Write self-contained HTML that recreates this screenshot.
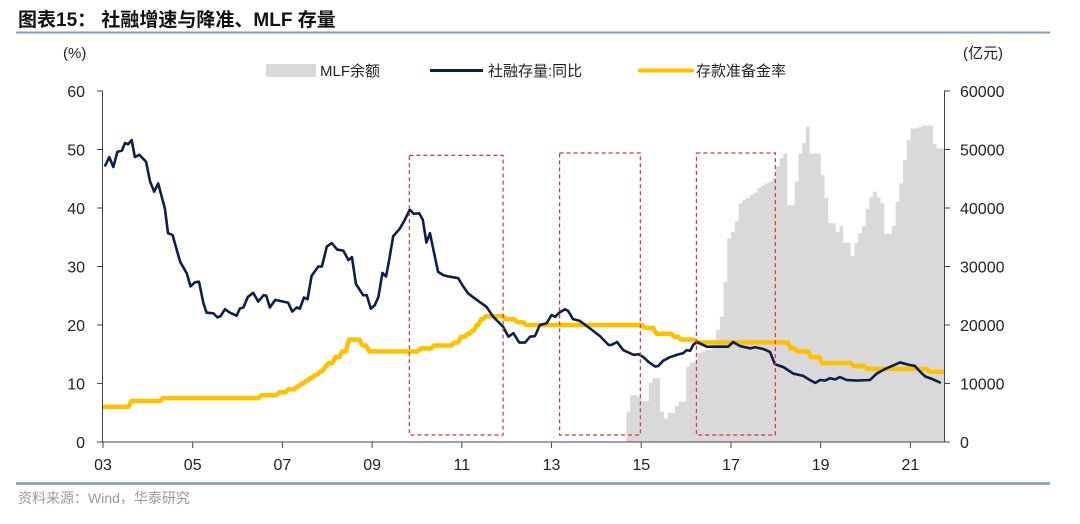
<!DOCTYPE html>
<html><head><meta charset="utf-8"><style>
body{margin:0;background:#fff;width:1080px;height:519px;overflow:hidden;font-family:"Liberation Sans","Noto Sans CJK SC",sans-serif}
svg text{font-family:"Liberation Sans","Noto Sans CJK SC",sans-serif}
</style></head><body>
<svg id="chart" width="1080" height="519" viewBox="0 0 1080 519">
<text x="18" y="26" font-size="19" font-weight="bold" fill="#111">图表15：  社融增速与降准、MLF 存量</text>
<line x1="16" y1="32.5" x2="1050" y2="32.5" stroke="#7f9bb8" stroke-width="2"/>
<line x1="16" y1="483.5" x2="1050" y2="483.5" stroke="#7f9bb8" stroke-width="2.5"/>
<text x="18" y="503" font-size="14" fill="#999">资料来源：Wind，华泰研究</text>
<text x="63" y="58" font-size="15" fill="#222">(%)</text>
<text x="963" y="58" font-size="15" fill="#222">(亿元)</text>
<g>
<g><rect x="266" y="64" width="50" height="13" fill="#d9d9d9"/><text x="320" y="76" font-size="15" fill="#222">MLF余额</text></g>
<g><line x1="430" y1="70.5" x2="483" y2="70.5" stroke="#0c1f4a" stroke-width="3"/><text x="488" y="76" font-size="15" fill="#222">社融存量:同比</text></g>
<g><line x1="640" y1="70.5" x2="692" y2="70.5" stroke="#ffc000" stroke-width="4" stroke-linecap="round"/><text x="696" y="76" font-size="15" fill="#222">存款准备金率</text></g>
</g>
<g id="bars"></g><g id="axes"></g><g id="lines"></g><g id="boxes"></g>
</svg>
<script>
const xTickLabels=["03","05","07","09","11","13","15","17","19","21"];
const xTickYears=[2003,2005,2007,2009,2011,2013,2015,2017,2019,2021];
const leftTicks=[0,10,20,30,40,50,60];
const rightTicks=[0,10000,20000,30000,40000,50000,60000];
const mlfStart=2014.67;
const mlfValues=[5200,8000,8000,7600,7000,7000,10100,10900,10900,5200,4000,5000,5000,6200,6900,6900,12900,13600,13600,15200,15400,15700,15700,17400,19100,21400,27400,34800,35900,37700,40800,41400,41700,42200,42600,43400,43800,44200,44500,45100,47100,48500,49300,40500,40500,44500,49300,51100,53900,49300,49300,49300,45600,41700,37400,37400,35900,36900,34100,34100,31800,34000,35700,36900,39900,41900,42800,41800,40800,35600,35600,36900,41100,44200,48200,51600,53600,53600,53800,54100,54100,54100,50900,50200,50200];
const sfYears=[2003.04,2003.14,2003.23,2003.32,2003.42,2003.49,2003.56,2003.64,2003.71,2003.81,2003.96,2004.05,2004.14,2004.23,2004.38,2004.45,2004.55,2004.72,2004.87,2004.95,2005.05,2005.14,2005.24,2005.31,2005.46,2005.55,2005.62,2005.72,2005.83,2005.98,2006.05,2006.13,2006.23,2006.35,2006.46,2006.58,2006.64,2006.72,2006.84,2007.02,2007.13,2007.22,2007.32,2007.39,2007.48,2007.56,2007.65,2007.80,2007.88,2007.99,2008.10,2008.22,2008.36,2008.47,2008.55,2008.64,2008.80,2008.88,2008.97,2009.06,2009.14,2009.23,2009.31,2009.38,2009.47,2009.61,2009.71,2009.84,2009.93,2010.05,2010.13,2010.21,2010.29,2010.36,2010.47,2010.59,2010.70,2010.92,2011.03,2011.14,2011.33,2011.55,2011.70,2011.92,2012.04,2012.15,2012.28,2012.41,2012.52,2012.63,2012.74,2012.89,2013.00,2013.08,2013.17,2013.30,2013.37,2013.48,2013.63,2013.86,2014.08,2014.27,2014.34,2014.46,2014.60,2014.83,2014.94,2015.05,2015.16,2015.31,2015.38,2015.49,2015.64,2015.79,2015.94,2016.01,2016.09,2016.16,2016.24,2016.46,2016.76,2016.94,2017.05,2017.20,2017.43,2017.54,2017.72,2017.87,2017.98,2018.17,2018.39,2018.61,2018.76,2018.88,2018.99,2019.10,2019.21,2019.32,2019.43,2019.58,2019.81,2020.10,2020.25,2020.47,2020.77,2020.96,2021.10,2021.22,2021.33,2021.51,2021.68];
const sfValues=[47.1,48.7,47.0,49.6,49.8,51.1,50.9,51.6,48.7,49.1,47.9,44.5,42.8,44.2,39.9,35.7,35.4,30.8,28.8,26.6,27.3,27.4,23.7,22.1,22.0,21.3,21.5,22.7,22.1,21.6,22.8,23.0,24.8,25.5,24.0,25.1,25.0,23.0,24.3,24.0,23.8,22.3,23.0,22.8,24.7,24.4,28.4,30.0,30.0,33.4,34.0,32.9,32.7,31.1,31.6,27.0,25.1,25.1,22.8,23.4,24.8,28.9,28.3,31.1,35.2,36.4,37.7,39.7,39.0,39.1,38.0,34.1,35.7,33.1,29.1,28.5,28.3,28.0,26.6,25.4,24.3,23.1,21.4,19.7,18.0,18.6,17.0,17.0,18.0,18.1,20.0,20.3,21.7,21.4,22.1,22.7,22.4,21.0,20.7,19.4,18.1,16.6,16.6,17.1,15.7,14.9,15.0,14.5,13.7,12.9,13.0,13.9,14.5,14.9,15.2,15.7,15.6,16.6,17.1,16.3,16.3,16.3,17.1,16.4,16.0,16.2,15.9,15.4,13.3,12.8,11.7,11.3,10.6,10.1,10.6,10.5,10.9,10.7,11.1,10.6,10.5,10.6,11.7,12.6,13.6,13.2,13.0,12.0,11.2,10.7,10.1];
const rrrYears=[2003.0,2003.6,2004.3,2006.5,2006.9,2007.1,2007.3,2007.4,2007.5,2007.6,2007.7,2007.8,2007.9,2007.95,2008.0,2008.15,2008.3,2008.45,2008.75,2008.9,2010.05,2010.35,2010.8,2010.95,2011.1,2011.2,2011.3,2011.4,2011.5,2011.95,2012.2,2012.4,2015.05,2015.3,2015.7,2015.85,2016.2,2018.3,2018.45,2018.75,2019.0,2019.7,2020.0,2021.4];
const rrrValues=[6,7,7.5,8,8.5,9,9.5,10,10.5,11,11.5,12,12.5,13,13.5,14.5,15.5,17.5,16.5,15.5,16,16.5,17,18,18.5,19,20,21,21.5,21,20.5,20,19.5,18.5,18,17.5,17,16,15.5,14.5,13.5,13,12.5,12];
const boxes=[[2009.83,2011.92,49],[2013.18,2014.98,49.4],[2016.23,2017.99,49.4]];
const X0=103,X1=944,Y0=442,Y1=91,T0=2003,T1=2021.75;
const xs=t=>X0+(t-T0)/(T1-T0)*(X1-X0);
const yl=v=>Y0-v/60*(Y0-Y1);
const yr=v=>Y0-v/60000*(Y0-Y1);
const NS="http://www.w3.org/2000/svg";
function mk(tag,attrs,parent,txt){const e=document.createElementNS(NS,tag);for(const k in attrs)e.setAttribute(k,attrs[k]);if(txt!==undefined)e.textContent=txt;document.getElementById(parent).appendChild(e);return e;}
let d="M"+xs(mlfStart)+","+Y0;
mlfValues.forEach((v,i)=>{const a=xs(mlfStart+i/12),b=xs(mlfStart+(i+1)/12);d+=" L"+a+","+yr(v)+" L"+b+","+yr(v);});
d+=" L"+xs(mlfStart+mlfValues.length/12)+","+Y0+" Z";
const area=mk("path",{d:d,fill:"#d9d9d9"},"bars");


const ax=mk("path",{d:`M${X0-0.5},${Y1} V${Y0} H${X1+0.5} V${Y1}`,fill:"none",stroke:"#444","stroke-width":1},"axes");


leftTicks.forEach(v=>{const y=yl(v);mk("line",{x1:X0-6,x2:X0,y1:y,y2:y,stroke:"#444"},"axes");
const t=mk("text",{x:X0-18,y:y+6,"font-size":16,"text-anchor":"end",fill:"#222"},"axes",v);

});
rightTicks.forEach(v=>{const y=yr(v);mk("line",{x1:X1,x2:X1+6,y1:y,y2:y,stroke:"#444"},"axes");
const t=mk("text",{x:X1+16,y:y+6,"font-size":16,fill:"#222"},"axes",v);

});
xTickYears.forEach((yv,i)=>{const x=xs(yv);mk("line",{x1:x,x2:x,y1:Y0,y2:Y0+6,stroke:"#444"},"axes");
const t=mk("text",{x:x,y:Y0+28,"font-size":16,"text-anchor":"middle",fill:"#222"},"axes",xTickLabels[i]);

});
let r="";
rrrYears.forEach((t,i)=>{const x=xs(t),y=yl(rrrValues[i]);if(i===0)r="M"+x+","+y;else{r+=" L"+(x-1.5)+","+yl(rrrValues[i-1])+" L"+(x+1.5)+","+y;}});
r+=" L"+xs(2021.75)+","+yl(rrrValues[rrrValues.length-1]);
const rl=mk("path",{d:r,fill:"none",stroke:"#ffc000","stroke-width":4.5,"stroke-linejoin":"round"},"lines");


const sp=sfYears.map((t,i)=>(i?"L":"M")+xs(t)+","+yl(sfValues[i])).join(" ");
const sl=mk("path",{d:sp,fill:"none",stroke:"#0c1f4a","stroke-width":2.6,"stroke-linejoin":"round"},"lines");


boxes.forEach(b=>{const x=xs(b[0]),w=xs(b[1])-x,y=yl(b[2]);
const bx=mk("rect",{x:x,y:y,width:w,height:yl(1.2)-y,fill:"none",stroke:"#e03030","stroke-width":1.2,"stroke-dasharray":"4,3"},"boxes");

});
</script>
</body></html>
